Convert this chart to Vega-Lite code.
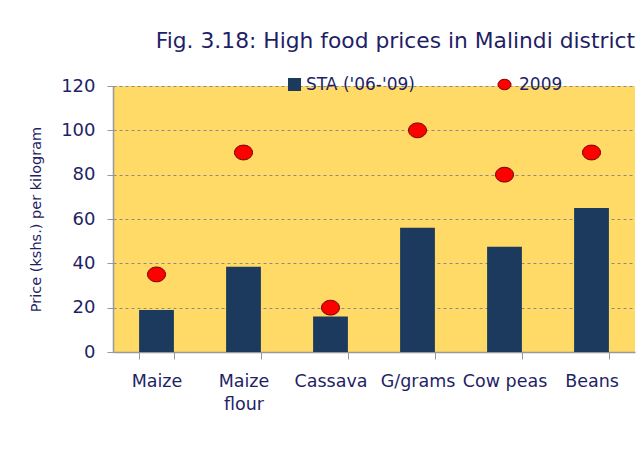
{
  "$schema": "https://vega.github.io/schema/vega-lite/v6.json",
  "width": 522,
  "height": 266,
  "autosize": {"type": "none"},
  "padding": {"left": 113, "top": 86, "right": 2, "bottom": 113},
  "background": "white",
  "title": {
    "text": "Fig. 3.18: High food prices in Malindi  district",
    "anchor": "end",
    "frame": "group",
    "offset": 23,
    "font": "DejaVu Sans",
    "fontSize": 21.8,
    "fontWeight": "normal",
    "color": "#1F1F66"
  },
  "config": {
    "view": {"fill": "#FFDA66", "stroke": null},
    "axis": {"labelFont": "DejaVu Sans", "titleFont": "DejaVu Sans", "labelColor": "#1F1F66", "titleColor": "#1F1F66"},
    "legend": {"labelFont": "DejaVu Sans", "labelColor": "#1F1F66", "labelFontSize": 17}
  },
  "data": {
    "values": [
      {"crop": "Maize", "sta": 19, "y2009": 35},
      {"crop": "Maize flour", "sta": 38.5, "y2009": 90},
      {"crop": "Cassava", "sta": 16, "y2009": 20},
      {"crop": "G/grams", "sta": 56, "y2009": 100},
      {"crop": "Cow peas", "sta": 47.5, "y2009": 80},
      {"crop": "Beans", "sta": 65, "y2009": 90}
    ]
  },
  "encoding": {
    "x": {
      "field": "crop",
      "type": "nominal",
      "sort": null,
      "scale": {"paddingInner": 0.6, "paddingOuter": 0.3},
      "axis": {
        "title": null,
        "labelAngle": 0,
        "labelFontSize": 17.5,
        "labelPadding": 13,
        "labelBaseline": "top",
        "labelLineHeight": 23,
        "labelExpr": "datum.value == 'Maize flour' ? ['Maize', 'flour'] : datum.value",
        "tickBand": "extent",
        "tickSize": 7,
        "tickColor": "#999999",
        "domainColor": "#999999",
        "domainWidth": 1.5,
        "grid": false
      }
    }
  },
  "layer": [
    {
      "mark": {"type": "bar"},
      "encoding": {
        "y": {
          "field": "sta",
          "type": "quantitative",
          "scale": {"domain": [0, 120]},
          "axis": {
            "title": "Price (kshs.) per kilogram",
            "titleFontSize": 14.5,
            "titleFontWeight": "normal",
            "titlePadding": 17,
            "values": [0, 20, 40, 60, 80, 100, 120],
            "labelFontSize": 18,
            "labelPadding": 12,
            "tickSize": 6,
            "tickColor": "#999999",
            "domainColor": "#999999",
            "domainWidth": 1.5,
            "grid": true,
            "gridColor": "#8a8a8a",
            "gridDash": [3, 3],
            "gridWidth": 1
          }
        },
        "color": {
          "datum": "STA ('06-'09)",
          "scale": {"range": ["#1B3A5E"]},
          "legend": {
            "title": null,
            "orient": "none",
            "legendX": 173,
            "legendY": -10,
            "symbolType": "square",
            "symbolSize": 169,
            "symbolStrokeWidth": 0,
            "labelOffset": 3
          }
        }
      }
    },
    {
      "mark": {
        "type": "point",
        "filled": true,
        "shape": "M -1 0 A 1 0.82 0 1 0 1 0 A 1 0.82 0 1 0 -1 0 Z",
        "size": 324,
        "stroke": "#6B0000",
        "strokeWidth": 1,
        "opacity": 1
      },
      "encoding": {
        "y": {"field": "y2009", "type": "quantitative"},
        "color": {
          "datum": "2009",
          "scale": {"range": ["#FF0000"]},
          "legend": {
            "title": null,
            "orient": "none",
            "legendX": 383,
            "legendY": -10,
            "symbolType": "M -1 0 A 1 0.8 0 1 0 1 0 A 1 0.8 0 1 0 -1 0 Z",
            "symbolSize": 169,
            "symbolStrokeColor": "#6B0000",
            "symbolStrokeWidth": 1,
            "labelOffset": 6
          }
        }
      }
    }
  ],
  "resolve": {"scale": {"color": "independent"}}
}
